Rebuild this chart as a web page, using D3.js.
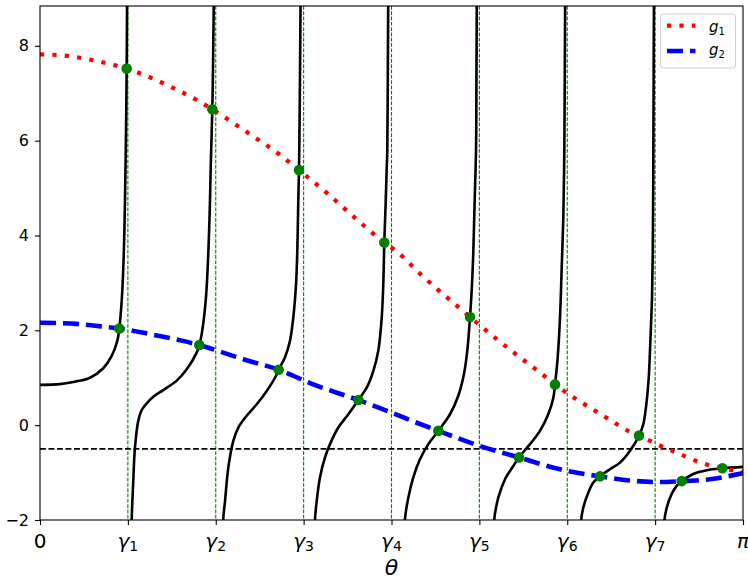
<!DOCTYPE html>
<html><head><meta charset="utf-8">
<script src="https://cdn.jsdelivr.net/npm/d3@7"></script>
<style>body{margin:0;background:#fff}svg{display:block}</style>
</head><body>
<svg id="chart" width="748" height="580"></svg>
<script>
// x values are theta / pi; y values
const branch0 = [[0,0.85],[0.0284,0.865],[0.0474,0.91],[0.0711,1.00],[0.0900,1.20],[0.1020,1.46],[0.1100,1.78],[0.1128,2.04],[0.1162,2.62],[0.1185,3.32],[0.1199,4.03],[0.1209,4.73],[0.1223,6.14],[0.1233,7.54],[0.1238,8.80],[0.1245,11]];
const branch1 = [[0.1287,-3.5],[0.1304,-2.0],[0.1327,-1.17],[0.1351,-0.47],[0.1398,0.09],[0.1451,0.33],[0.1518,0.46],[0.1612,0.60],[0.1754,0.74],[0.1945,0.94],[0.2087,1.18],[0.2229,1.53],[0.2266,1.69],[0.2300,1.92],[0.2357,2.62],[0.2385,3.32],[0.2404,4.03],[0.2418,4.73],[0.2428,5.43],[0.2451,6.66],[0.2461,7.54],[0.2471,8.80],[0.2478,11]];
const branch2 = [[0.2575,-3.5],[0.2607,-1.97],[0.2632,-1.60],[0.2679,-0.89],[0.2750,-0.33],[0.2821,-0.05],[0.2940,0.20],[0.3083,0.44],[0.3225,0.72],[0.3343,1.00],[0.3395,1.17],[0.3485,1.43],[0.3556,1.78],[0.3603,2.27],[0.3642,2.97],[0.3660,3.67],[0.3674,4.73],[0.3684,5.38],[0.3688,5.78],[0.3698,7.3],[0.3706,8.84],[0.3716,11]];
const branch3 = [[0.3883,-3.5],[0.3912,-1.98],[0.3936,-1.60],[0.3983,-1.10],[0.4054,-0.68],[0.4125,-0.40],[0.4243,-0.05],[0.4386,0.23],[0.4528,0.53],[0.4647,0.79],[0.4741,1.14],[0.4812,1.57],[0.4861,2.27],[0.4883,2.97],[0.4898,3.85],[0.4918,4.73],[0.4932,5.43],[0.4940,5.78],[0.4947,7.2],[0.4953,8.84],[0.4964,11]];
const branch4 = [[0.5164,-3.5],[0.5192,-1.98],[0.5239,-1.53],[0.5310,-1.10],[0.5405,-0.72],[0.5524,-0.40],[0.5666,-0.12],[0.5832,0.23],[0.5950,0.62],[0.6031,1.08],[0.6078,1.57],[0.6117,2.28],[0.6145,2.97],[0.6164,3.67],[0.6183,4.73],[0.6202,5.78],[0.6208,7.2],[0.6213,8.84],[0.6223,11]];
const branch5 = [[0.6430,-3.5],[0.6462,-1.98],[0.6519,-1.53],[0.6615,-1.14],[0.6733,-0.86],[0.6814,-0.68],[0.6970,-0.40],[0.7112,-0.12],[0.7230,0.23],[0.7302,0.58],[0.7326,0.86],[0.7364,1.43],[0.7397,2.27],[0.7421,3.32],[0.7444,4.38],[0.7458,5.78],[0.7464,7.2],[0.7470,8.84],[0.7479,11]];
const branch6 = [[0.7667,-3.5],[0.7696,-2.02],[0.7728,-1.74],[0.7800,-1.42],[0.7871,-1.21],[0.7966,-1.08],[0.8108,-0.93],[0.8250,-0.79],[0.8393,-0.54],[0.8521,-0.22],[0.8582,0.02],[0.8630,0.51],[0.8659,1.00],[0.8677,1.57],[0.8691,2.1],[0.8706,2.7],[0.8716,3.6],[0.8723,5.0],[0.8728,7.0],[0.8733,8.84],[0.8743,11]];
const branch7 = [[0.8855,-3.5],[0.8881,-2.02],[0.8915,-1.74],[0.8986,-1.45],[0.9057,-1.28],[0.9128,-1.18],[0.9293,-1.03],[0.9484,-0.95],[0.9706,-0.91],[1.0,-0.88]];
const branches = [branch0,branch1,branch2,branch3,branch4,branch5,branch6,branch7];

const g1 = [[0,7.82],[0.0380,7.79],[0.0735,7.70],[0.1091,7.58],[0.1233,7.52],[0.1589,7.32],[0.1896,7.11],[0.2238,6.85],[0.2451,6.66],[0.2984,6.14],[0.3414,5.70],[0.3684,5.38],[0.4101,4.87],[0.4505,4.34],[0.4898,3.85],[0.5074,3.66],[0.5452,3.13],[0.5856,2.61],[0.6117,2.28],[0.6401,1.93],[0.6828,1.43],[0.7112,1.11],[0.7326,0.86],[0.7667,0.51],[0.7824,0.37],[0.8132,0.09],[0.8417,-0.16],[0.8521,-0.22],[0.8772,-0.40],[0.9104,-0.61],[0.9435,-0.81],[0.9706,-0.91],[1.0,-0.98]];
const g2 = [[0,2.16],[0.0569,2.13],[0.0949,2.07],[0.1128,2.04],[0.1565,1.92],[0.1991,1.79],[0.2266,1.69],[0.2607,1.53],[0.2892,1.39],[0.3395,1.17],[0.3888,0.86],[0.4528,0.53],[0.4836,0.36],[0.5026,0.25],[0.5310,0.08],[0.5666,-0.12],[0.6259,-0.44],[0.6814,-0.68],[0.7397,-0.93],[0.7586,-0.99],[0.7966,-1.08],[0.8346,-1.16],[0.8772,-1.20],[0.9128,-1.18],[0.9531,-1.14],[1.0,-1.01]];

const dotsG1 = [[0.1233,7.52],[0.2451,6.66],[0.3684,5.38],[0.4898,3.85],[0.6117,2.28],[0.7326,0.86],[0.8521,-0.22],[0.9706,-0.91]];
const dotsG2 = [[0.1128,2.04],[0.2266,1.69],[0.3395,1.17],[0.4528,0.53],[0.5666,-0.12],[0.6814,-0.68],[0.7966,-1.08],[0.9128,-1.18]];

const gammaIdx = [1,2,3,4,5,6,7];          // gamma_k = k*pi/8
const hLineValue = -0.5;
const yTicks = [-2,0,2,4,6,8];
const xTickIdx = [0,1,2,3,4,5,6,7,8];      // multiples of pi/8
const xTickBase = ["0","γ","γ","γ","γ","γ","γ","γ","π"];
const xTickSub  = ["","1","2","3","4","5","6","7",""];
const legendNames = ["g","g"];
const legendSubs = ["1","2"];

const svg = d3.select("#chart");
const L=40,R=743,T=6,B=520;
const x = d3.scaleLinear().domain([0,Math.PI]).range([L,R]);
const y = d3.scaleLinear().domain([-2,8.84]).range([B,T]);
const px = d => x(d[0]*Math.PI), py = d => y(d[1]);

svg.append("defs").append("clipPath").attr("id","clip")
  .append("rect").attr("x",L).attr("y",T).attr("width",R-L).attr("height",B-T);
const plot = svg.append("g").attr("clip-path","url(#clip)");

// vertical gamma lines
plot.selectAll("line.gam").data(gammaIdx).enter().append("line")
  .attr("x1",k=>x(k*Math.PI/8)).attr("x2",k=>x(k*Math.PI/8))
  .attr("y1",T).attr("y2",B)
  .attr("stroke","#008000").attr("stroke-width",1.1).attr("stroke-dasharray","3.7 1.6");

// horizontal dashed line
plot.append("line").attr("x1",L).attr("x2",R).attr("y1",y(hLineValue)).attr("y2",y(hLineValue))
  .attr("stroke","#000").attr("stroke-width",1.6).attr("stroke-dasharray","5.9 2.6");

const lineB = d3.line().x(px).y(py).curve(d3.curveCatmullRom.alpha(0.5));
const lineG = d3.line().x(px).y(py).curve(d3.curveMonotoneX);

plot.selectAll("path.br").data(branches).enter().append("path")
  .attr("d",lineB).attr("fill","none").attr("stroke","#000").attr("stroke-width",2.6)
  .attr("stroke-linejoin","round");

plot.append("path").attr("d",lineG(g1)).attr("fill","none").attr("stroke","#ff0000")
  .attr("stroke-width",4.2).attr("stroke-dasharray","4.2 8.2");
plot.append("path").attr("d",lineG(g2)).attr("fill","none").attr("stroke","#0000ff")
  .attr("stroke-width",4.6).attr("stroke-dasharray","16 7");

plot.selectAll("circle.d").data(dotsG1.concat(dotsG2)).enter().append("circle")
  .attr("cx",px).attr("cy",py).attr("r",5.3).attr("fill","#008000");

// axes
const yAxis = svg.append("g").attr("transform",`translate(${L},0)`)
  .call(d3.axisLeft(y).tickValues(yTicks).tickSize(5).tickPadding(6).tickFormat(d3.format("d")));
yAxis.select(".domain").remove();
yAxis.selectAll("text").attr("font-family","DejaVu Sans").attr("font-size",16).attr("fill","#000");
yAxis.selectAll("line").attr("stroke","#000").attr("stroke-width",1.1);

const xAxis = svg.append("g").attr("transform",`translate(0,${B})`)
  .call(d3.axisBottom(x).tickValues(xTickIdx.map(k=>k*Math.PI/8)).tickSize(5).tickFormat(""));
xAxis.select(".domain").remove();
xAxis.selectAll("line").attr("stroke","#000").attr("stroke-width",1.1);

xTickIdx.forEach((k,i)=>{
  const t = svg.append("text").attr("x",x(k*Math.PI/8)).attr("y",548)
    .attr("text-anchor","middle").attr("font-family","DejaVu Sans").attr("font-size",20).attr("fill","#000");
  t.append("tspan").attr("font-style", xTickBase[i]==="0" ? "normal" : "italic").text(xTickBase[i]);
  if (xTickSub[i]) t.append("tspan").attr("font-size",14).attr("dy",3).text(xTickSub[i]);
});

svg.append("text").attr("x",(L+R)/2).attr("y",575).attr("text-anchor","middle")
  .attr("font-family","DejaVu Sans").attr("font-style","italic").attr("font-size",22).text("θ");

// frame
svg.append("rect").attr("x",L).attr("y",T).attr("width",R-L).attr("height",B-T)
  .attr("fill","none").attr("stroke","#000").attr("stroke-width",1.1);

// legend
const lg = svg.append("g");
lg.append("rect").attr("x",660.5).attr("y",14).attr("width",75).attr("height",54).attr("rx",3)
  .attr("fill","#fff").attr("fill-opacity",0.8).attr("stroke","#cccccc").attr("stroke-width",1);
const legendStyles = [
  {color:"#ff0000", w:4.2, dash:"4.2 8.2", y:25.7, ty:31.5},
  {color:"#0000ff", w:4.6, dash:"16 7", y:51, ty:55}
];
legendStyles.forEach((s,i)=>{
  lg.append("line").attr("x1",667).attr("x2",695.5).attr("y1",s.y).attr("y2",s.y)
    .attr("stroke",s.color).attr("stroke-width",s.w).attr("stroke-dasharray",s.dash);
  const t = lg.append("text").attr("x",709).attr("y",s.ty).attr("font-family","DejaVu Sans").attr("font-size",15).attr("fill","#000");
  t.append("tspan").attr("font-style","italic").text(legendNames[i]);
  t.append("tspan").attr("font-size",10).attr("dy",3).text(legendSubs[i]);
});
</script>
</body></html>
